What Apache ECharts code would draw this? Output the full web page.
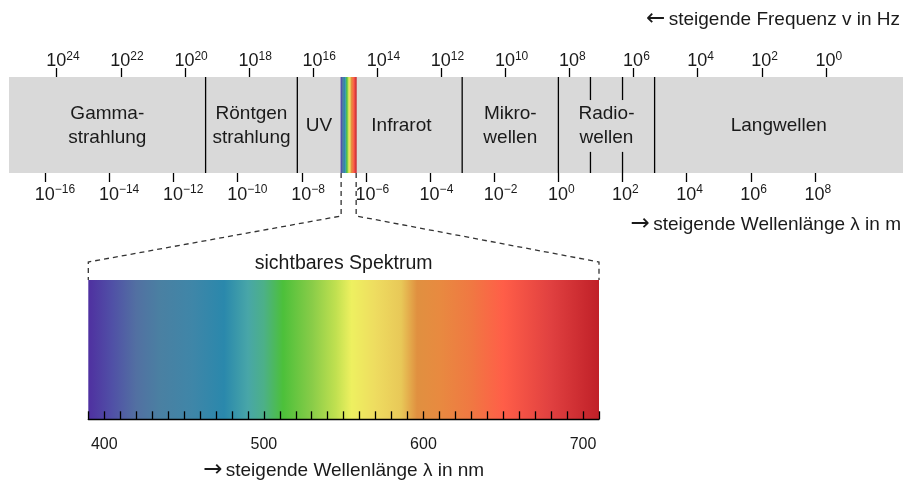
<!DOCTYPE html>
<html>
<head>
<meta charset="utf-8">
<script src="https://cdn.jsdelivr.net/npm/echarts@6/dist/echarts.min.js"></script>
<style>
html,body{margin:0;padding:0;background:#fff;}
#c{width:906px;height:482px;}
</style>
</head>
<body>
<div id="c"></div>
<script>
// ---- data (log10 of wavelength in m / frequency in Hz, wavelength in nm) ----
const wavelengthRange = [-17.13, 10.745];
const frequencyRange = [-2.405, 25.488];
const wavelengthTicks = [-16, -14, -12, -10, -8, -6, -4, -2, 0, 2, 4, 6, 8];
const frequencyTicks = [24, 22, 20, 18, 16, 14, 12, 10, 8, 6, 4, 2, 0];
const bandNames = ['Gamma-\nstrahlung', 'Röntgen\nstrahlung', 'UV', 'Infrarot', 'Mikro-\nwellen', 'Radio-\nwellen', 'Langwellen'];
const bandEdges = [-17.13, -11, -8.14, -6.79, -3, 0, 3, 10.745];
const boundaryLines = [-11, -8.14, -3, 0, 3];
const radioSubLines = [1, 2];
const visibleStrip = [-6.79, -6.29];
const visibleRange = [390, 710];
const visibleLabels = [400, 500, 600, 700];
const spectrumNm = [390, 405, 420, 435, 455, 475, 490, 500, 512, 530, 545, 555, 570, 586, 596, 610, 630, 650, 680, 710];
const spectrumColors = ['#4f30a0', '#5050a6', '#5270a2', '#4a80a2', '#3f86a8', '#2a88ac', '#48a6a8', '#4cb088', '#4cc03a', '#88cc48', '#c0e050', '#eef060', '#eedc60', '#e8c858', '#e09040', '#e88a40', '#f07842', '#ff5e48', '#e04040', '#c02028'];

const FONT = '"Liberation Sans", Arial, Helvetica, sans-serif';
const TXT = '#1a1a1a';

function spectrumGradient() {
  const span = visibleRange[1] - visibleRange[0];
  return new echarts.graphic.LinearGradient(0, 0, 1, 0,
    spectrumNm.map((nm, i) => ({ offset: (nm - visibleRange[0]) / span, color: spectrumColors[i] })));
}

function powLabel(exp) {
  const e = exp < 0 ? '\u2212' + Math.abs(exp) : String(exp);
  return '{b|10}{s|' + e + '}';
}
const powRich = {
  b: { fontSize: 18, fontFamily: FONT, lineHeight: 20, verticalAlign: 'bottom', fill: TXT },
  s: { fontSize: 12, fontFamily: FONT, lineHeight: 12, verticalAlign: 'top', fill: TXT }
};
const arrowRich = {
  a: { fontSize: 23, fontFamily: '"DejaVu Sans", sans-serif', fill: TXT, padding: [0, 0, 2, 0] },
  t: { fontSize: 19, fontFamily: FONT, fill: TXT }
};

const bandMids = bandNames.map((n, i) => [(bandEdges[i] + bandEdges[i + 1]) / 2, 0.5, n]);

const chart = echarts.init(document.getElementById('c'), null, { renderer: 'canvas' });

const ruler = 8 / 139.3; // ruler strip below the spectrum, in y-axis units

const option = {
  backgroundColor: '#fff',
  animation: false,
  grid: [
    { left: 9, right: 3, top: 77, height: 96, show: true, backgroundColor: '#d9d9d9', borderWidth: 0 },
    { left: 88.3, right: 307, top: 280, height: 147.3 }
  ],
  xAxis: [
    { gridIndex: 0, type: 'value', position: 'bottom', min: wavelengthRange[0], max: wavelengthRange[1],
      axisLine: { show: false }, splitLine: { show: false },
      axisTick: { show: true, length: 9, lineStyle: { color: '#000', width: 1.3 }, customValues: wavelengthTicks },
      axisLabel: { show: false } },
    { gridIndex: 0, type: 'value', position: 'top', inverse: true, min: frequencyRange[0], max: frequencyRange[1],
      axisLine: { show: false }, splitLine: { show: false },
      axisTick: { show: true, length: 9, lineStyle: { color: '#000', width: 1.3 }, customValues: frequencyTicks },
      axisLabel: { show: false } },
    { gridIndex: 1, type: 'value', position: 'bottom', min: visibleRange[0], max: visibleRange[1], interval: 10,
      splitLine: { show: false }, z: 10,
      axisLine: { show: true, lineStyle: { color: '#000', width: 1.3 } },
      axisTick: { show: true, inside: true, length: 8, lineStyle: { color: '#000', width: 1.3 } },
      axisLabel: { show: true, customValues: visibleLabels, fontSize: 16, fontFamily: FONT, color: TXT, margin: 9 } }
  ],
  yAxis: [
    { gridIndex: 0, type: 'value', min: 0, max: 1, show: false },
    { gridIndex: 1, type: 'value', min: -ruler, max: 1, show: false }
  ],
  series: [
    { // visible spectrum strip inside band
      type: 'custom', xAxisIndex: 0, yAxisIndex: 0, clip: false, silent: true,
      data: [[visibleStrip[0], visibleStrip[1]]],
      renderItem: (params, api) => {
        const p0 = api.coord([api.value(0), 1]);
        const p1 = api.coord([api.value(1), 0]);
        return { type: 'rect', shape: { x: p0[0], y: p0[1], width: p1[0] - p0[0], height: p1[1] - p0[1] },
          style: { fill: spectrumGradient() } };
      }
    },
    { // boundary lines
      type: 'custom', xAxisIndex: 0, yAxisIndex: 0, clip: false, silent: true,
      data: boundaryLines.map(v => [v]),
      renderItem: (params, api) => {
        const a = api.coord([api.value(0), 1]);
        const b = api.coord([api.value(0), 0]);
        return { type: 'line', shape: { x1: a[0], y1: a[1], x2: b[0], y2: b[1] }, style: { stroke: '#000', lineWidth: 1.3 } };
      }
    },
    { // radio sub lines (partial)
      type: 'custom', xAxisIndex: 0, yAxisIndex: 0, clip: false, silent: true,
      data: radioSubLines.map(v => [v]),
      renderItem: (params, api) => {
        const v = api.value(0);
        const a = api.coord([v, 1]), b = api.coord([v, 0.76]);
        const c = api.coord([v, 0.22]), d = api.coord([v, 0]);
        return { type: 'group', children: [
          { type: 'line', shape: { x1: a[0], y1: a[1], x2: b[0], y2: b[1] }, style: { stroke: '#000', lineWidth: 1.3 } },
          { type: 'line', shape: { x1: c[0], y1: c[1], x2: d[0], y2: d[1] }, style: { stroke: '#000', lineWidth: 1.3 } }
        ] };
      }
    },
    { // band labels
      type: 'custom', xAxisIndex: 0, yAxisIndex: 0, clip: false, silent: true,
      data: bandMids,
      renderItem: (params, api) => {
        const p = api.coord([api.value(0), api.value(1)]);
        return { type: 'text', style: { text: bandMids[params.dataIndex][2], x: p[0], y: p[1] + 1, align: 'center', verticalAlign: 'middle',
          fontSize: 19, fontFamily: FONT, lineHeight: 24, fill: TXT } };
      }
    },
    { // wavelength tick labels
      type: 'custom', xAxisIndex: 0, yAxisIndex: 0, clip: false, silent: true,
      data: wavelengthTicks.map(v => [v, 0]),
      renderItem: (params, api) => {
        const p = api.coord([api.value(0), 0]);
        return { type: 'text', style: { text: powLabel(api.value(0)), rich: powRich, x: p[0] - 10.5, y: p[1] + 21,
          align: 'left', verticalAlign: 'middle' } };
      }
    },
    { // frequency tick labels
      type: 'custom', xAxisIndex: 1, yAxisIndex: 0, clip: false, silent: true,
      data: frequencyTicks.map(v => [v, 1]),
      renderItem: (params, api) => {
        const p = api.coord([api.value(0), 1]);
        return { type: 'text', style: { text: powLabel(api.value(0)), rich: powRich, x: p[0] - 10.5, y: p[1] - 16.5,
          align: 'left', verticalAlign: 'middle' } };
      }
    },
    { // visible spectrum
      type: 'custom', xAxisIndex: 2, yAxisIndex: 1, clip: false, silent: true, z: 1,
      data: [[visibleRange[0], visibleRange[1]]],
      renderItem: (params, api) => {
        const p0 = api.coord([api.value(0), 1]);
        const p1 = api.coord([api.value(1), 0]);
        return { type: 'rect', shape: { x: p0[0], y: p0[1], width: p1[0] - p0[0], height: p1[1] - p0[1] },
          style: { fill: spectrumGradient() } };
      }
    }
  ]
};
chart.setOption(option);

// dashed connectors between the strip and the enlarged spectrum
const s0 = chart.convertToPixel({ xAxisIndex: 0, yAxisIndex: 0 }, [visibleStrip[0], 0]);
const s1 = chart.convertToPixel({ xAxisIndex: 0, yAxisIndex: 0 }, [visibleStrip[1], 0]);
const v0 = chart.convertToPixel({ xAxisIndex: 2, yAxisIndex: 1 }, [visibleRange[0], 1]);
const v1 = chart.convertToPixel({ xAxisIndex: 2, yAxisIndex: 1 }, [visibleRange[1], 1]);
const midY = s0[1] + 43, lowY = v0[1] - 18;
const dash = { stroke: '#333', lineWidth: 1.3, lineDash: [5, 4], fill: null };
chart.setOption({
  graphic: [
    { type: 'polyline', silent: true, shape: { points: [[s0[0] + 0.5, s0[1]], [s0[0] + 0.5, midY], [v0[0], lowY], [v0[0], v0[1]]] }, style: dash },
    { type: 'polyline', silent: true, shape: { points: [[s1[0] - 0.5, s1[1]], [s1[0] - 0.5, midY], [v1[0], lowY], [v1[0], v1[1]]] }, style: dash },
    { type: 'text', silent: true, x: 900, y: 20, style: { text: '{a|\u2190} {t|steigende Frequenz v in Hz}', rich: arrowRich, align: 'right', verticalAlign: 'middle' } },
    { type: 'text', silent: true, x: 901, y: 225, style: { text: '{a|\u2192} {t|steigende Wellenlänge \u03bb in m}', rich: arrowRich, align: 'right', verticalAlign: 'middle' } },
    { type: 'text', silent: true, x: (v0[0] + v1[0]) / 2, y: lowY + 2, style: { text: 'sichtbares Spektrum', align: 'center', verticalAlign: 'middle', fontSize: 19.5, fontFamily: FONT, fill: TXT } },
    { type: 'text', silent: true, x: (v0[0] + v1[0]) / 2, y: 471, style: { text: '{a|\u2192} {t|steigende Wellenlänge \u03bb in nm}', rich: arrowRich, align: 'center', verticalAlign: 'middle' } }
  ]
});
</script>
</body>
</html>
